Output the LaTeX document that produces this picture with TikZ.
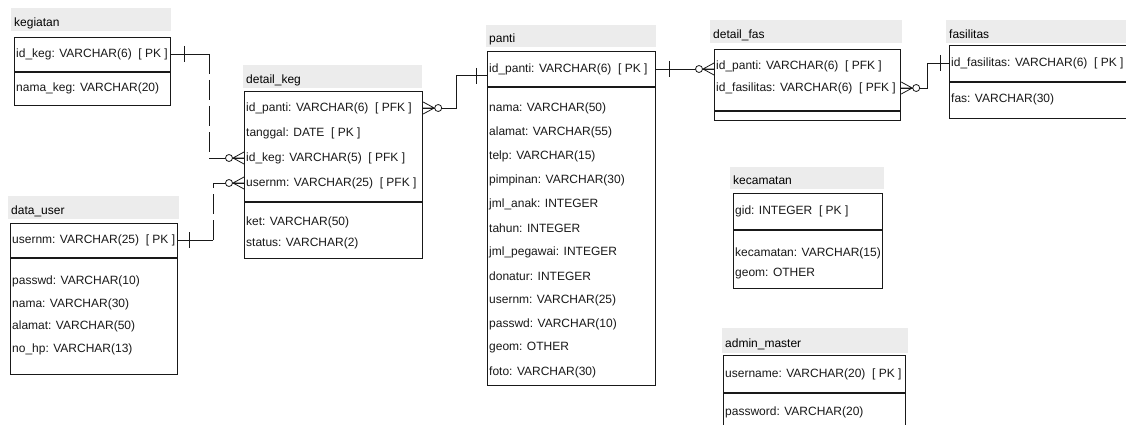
\documentclass[tikz,border=0pt]{standalone}
\usepackage{fontspec}
\setmainfont{Liberation Sans}
\usetikzlibrary{positioning,calc}
\definecolor{ink}{RGB}{25,25,25}
\definecolor{band}{RGB}{236,236,236}
\tikzset{
  tbl/.style={draw=ink,line width=1.2pt,fill=white,inner sep=0pt,anchor=north west},
  head/.style={fill=band,anchor=north west,inner xsep=3pt,inner ysep=0pt,
    text height=13pt,text depth=0pt,align=left,font=\fontsize{12}{14}\selectfont},
  field/.style={anchor=west,inner xsep=2pt,inner ysep=1pt,
    font=\fontsize{12}{14}\selectfont,text=ink},
  rel/.style={draw=ink,line width=0.8pt},
  weak/.style={dash pattern=on 20pt off 6pt},
  pics/one/.style={code={\draw[rel] (#1,-8) -- (#1,8);}},
  pics/crow/.style={code={
    \draw[rel] (0,-6) -- ({-11*#1},0) -- (0,6) (0,0) -- ({-11*#1},0);
    \draw[rel,fill=white] ({-15*#1},0) circle[radius=3.5pt];}},
}
\begin{document}
\begin{tikzpicture}[x=1pt,y=-1pt]
  \clip (0,0) rectangle (1126,425);
  \fill[white] (0,0) rectangle (1126,425);

  % kegiatan
  \node[head,text width=154pt,minimum height=23pt] (kegHead) at (11,8) {kegiatan};
  \node[tbl,minimum width=156pt,minimum height=34pt] (kegKey) at (14,37) {};
  \node[tbl,minimum width=156pt,minimum height=33pt] (kegAttr) at (kegKey.south west) {};
  \node[field] (kegId) at (14,54) {id\_keg: VARCHAR(6)\ \ [ PK ]};
  \node[field] (kegNama) at (14,88) {nama\_keg: VARCHAR(20)};

  % data_user
  \node[head,text width=165pt,minimum height=23pt] (duHead) at (8,196) {data\_user};
  \node[tbl,minimum width=167pt,minimum height=34pt] (duKey) at (10,223) {};
  \node[tbl,minimum width=167pt,minimum height=116pt] (duAttr) at (duKey.south west) {};
  \node[field] (duUser) at (10,240) {usernm: VARCHAR(25)\ \ [ PK ]};
  \foreach \t [count=\i] in {passwd: VARCHAR(10),nama: VARCHAR(30),
      alamat: VARCHAR(50),no\_hp: VARCHAR(13)}
    \node[field] (du\i) at (10,259+22.5*\i) {\t};

  % detail_keg
  \node[head,text width=173pt,minimum height=23pt] (dkHead) at (243,65) {detail\_keg};
  \node[tbl,minimum width=178pt,minimum height=110pt] (dkKey) at (244,91) {};
  \node[tbl,minimum width=178pt,minimum height=56pt] (dkAttr) at (dkKey.south west) {};
  \node[field] (dkPanti) at (244,108) {id\_panti: VARCHAR(6)\ \ [ PFK ]};
  \node[field] (dkTgl) at (244,133) {tanggal: DATE\ \ [ PK ]};
  \node[field] (dkKeg) at (244,158) {id\_keg: VARCHAR(5)\ \ [ PFK ]};
  \node[field] (dkUser) at (244,183) {usernm: VARCHAR(25)\ \ [ PFK ]};
  \node[field] (dkKet) at (244,222) {ket: VARCHAR(50)};
  \node[field] (dkStatus) at (244,243) {status: VARCHAR(2)};

  % panti
  \node[head,text width=164pt,minimum height=22pt] (paHead) at (486,25) {panti};
  \node[tbl,minimum width=168pt,minimum height=35pt] (paKey) at (487,51) {};
  \node[tbl,minimum width=168pt,minimum height=298pt] (paAttr) at (paKey.south west) {};
  \node[field] (paId) at (487,69) {id\_panti: VARCHAR(6)\ \ [ PK ]};
  \foreach \t [count=\i] in {nama: VARCHAR(50),alamat: VARCHAR(55),telp: VARCHAR(15),
      pimpinan: VARCHAR(30),jml\_anak: INTEGER,tahun: INTEGER,jml\_pegawai: INTEGER,
      donatur: INTEGER,usernm: VARCHAR(25),passwd: VARCHAR(10),geom: OTHER,
      foto: VARCHAR(30)}
    \node[field] (pa\i) at (487,84+24*\i) {\t};

  % detail_fas
  \node[head,text width=186pt,minimum height=23pt] (dfHead) at (710,20) {detail\_fas};
  \node[tbl,minimum width=186pt,minimum height=61pt] (dfKey) at (714,49) {};
  \node[tbl,minimum width=186pt,minimum height=9pt] (dfAttr) at (dfKey.south west) {};
  \node[field] (dfPanti) at (714,66) {id\_panti: VARCHAR(6)\ \ [ PFK ]};
  \node[field] (dfFas) at (714,88) {id\_fasilitas: VARCHAR(6)\ \ [ PFK ]};

  % fasilitas
  \node[head,text width=200pt,minimum height=23pt] (faHead) at (946,20) {fasilitas};
  \node[tbl,minimum width=200pt,minimum height=36pt] (faKey) at (949,45) {};
  \node[tbl,minimum width=200pt,minimum height=36pt] (faAttr) at (faKey.south west) {};
  \node[field] (faId) at (949,63) {id\_fasilitas: VARCHAR(6)\ \ [ PK ]};
  \node[field] (faNama) at (949,99) {fas: VARCHAR(30)};

  % kecamatan
  \node[head,text width=148pt,minimum height=22pt] (keHead) at (730,167) {kecamatan};
  \node[tbl,minimum width=149pt,minimum height=36pt] (keKey) at (733,193) {};
  \node[tbl,minimum width=149pt,minimum height=58pt] (keAttr) at (keKey.south west) {};
  \node[field] (keGid) at (733,211) {gid: INTEGER\ \ [ PK ]};
  \node[field] (keNama) at (733,253) {kecamatan: VARCHAR(15)};
  \node[field] (keGeom) at (733,274) {geom: OTHER};

  % admin_master
  \node[head,text width=180pt,minimum height=25pt] (adHead) at (722,328) {admin\_master};
  \node[tbl,minimum width=182pt,minimum height=37pt] (adKey) at (723,355) {};
  \node[tbl,minimum width=182pt,minimum height=60pt] (adAttr) at (adKey.south west) {};
  \node[field] (adUser) at (723,374) {username: VARCHAR(20)\ \ [ PK ]};
  \node[field] (adPass) at (723,412) {password: VARCHAR(20)};

  % relations
  \draw[rel] (kegKey.east |- kegId) pic{one=13} -- ++(38,0) coordinate (kgTurn);
  \draw[rel,weak] (kgTurn) -- (kgTurn |- dkKeg) coordinate (kgDown);
  \draw[rel] (kgDown) -- (dkKey.west |- dkKeg) pic{crow=1};

  \draw[rel] (duKey.east |- duUser) pic{one=11} -- ++(35,0) coordinate (duTurn);
  \draw[rel,weak] (duTurn) -- (duTurn |- dkUser) coordinate (duUp);
  \draw[rel] (duUp) -- (dkKey.west |- dkUser) pic{crow=1};

  \draw[rel] (dkKey.east |- dkPanti) pic{crow=-1} -- ++(33,0)
    |- (paKey.west |- paId.south) pic{one=-11};
  \draw[rel] (paKey.east |- paId) pic{one=13} -- (dfKey.west |- paId) pic{crow=1};
  \draw[rel] (dfKey.east |- dfFas) pic{crow=-1} -- ++(26,0)
    |- (faKey.west |- faId) pic{one=-9};
\end{tikzpicture}
\end{document}
